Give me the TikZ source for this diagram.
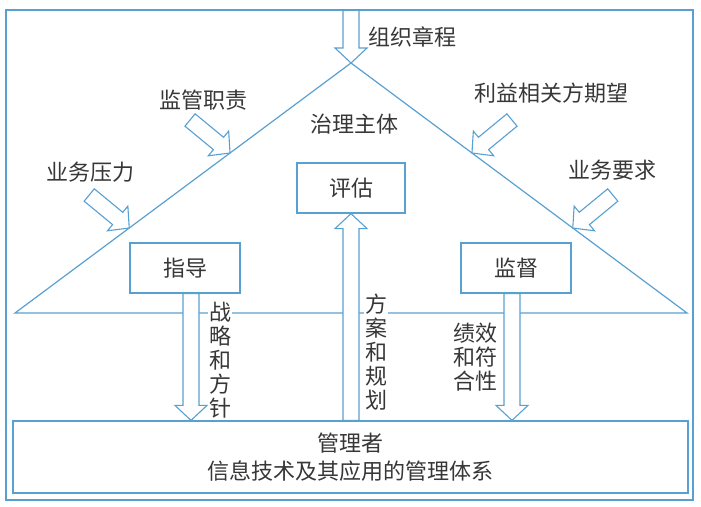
\documentclass[tikz,border=0pt]{standalone}
\usepackage{fontspec}
\usepackage{tikz}
\usetikzlibrary{calc,positioning}
\newfontfamily\cjk{Noto Sans CJK SC}
\definecolor{govblue}{RGB}{88,160,210}
\definecolor{inkgray}{RGB}{55,55,55}

% hollow block arrow from #1 to #2
\newcommand{\blockarrow}[3][fill=white]{%
  \coordinate (ba-h) at ($(#3)!15pt!(#2)$);
  \draw[hollow,#1] ($(#2)!8pt!-90:(#3)$) -- ($(ba-h)!8pt!90:(#2)$) -- ($(ba-h)!16pt!90:(#2)$)
    -- (#3) -- ($(ba-h)!16pt!-90:(#2)$) -- ($(ba-h)!8pt!-90:(#2)$) -- ($(#2)!8pt!90:(#3)$) -- cycle;
}

\tikzset{
  govline/.style={draw=govblue,line width=1.2pt},
  hollow/.style={draw=govblue,line width=1.1pt,line join=miter},
  cjklabel/.style={text=inkgray,font=\cjk\fontsize{22}{24}\selectfont,inner sep=1pt},
  govbox/.style={govline,fill=white,cjklabel,minimum width=110pt,minimum height=50pt},
}

\begin{document}
\begin{tikzpicture}[x=1pt,y=-1pt]
  \useasboundingbox (0,0) rectangle (701,506);
  \draw[govline] (6,10) rectangle (693,500);

  % triangle of the governing body
  \coordinate (apex) at (351,63);
  \coordinate (bl) at (15,313);
  \coordinate (br) at (687,313);
  \draw[govline,line join=miter] (bl) -- (apex) -- (br) -- cycle;

  \node[govbox,minimum width=108pt] (eval) at (351,188) {评估};
  \node[govbox] (guide) at (185,268) {指导};
  \node[govbox] (super) at (516,268) {监督};
  \node[govbox,minimum width=675pt,minimum height=72pt,align=center,
        font=\cjk\fontsize{22}{28}\selectfont] (mgr) at (350.5,457)
        {管理者\\信息技术及其应用的管理体系};

  \node[cjklabel] (board) at (354,124) {治理主体};
  \node[cjklabel] (charter) at (412,37) {组织章程};
  \node[cjklabel] (dutylbl) at (203,100) {监管职责};
  \node[cjklabel] (presslbl) at (90,172) {业务压力};
  \node[cjklabel] (stakelbl) at (551,93) {利益相关方期望};
  \node[cjklabel] (reqlbl) at (612,170) {业务要求};

  % inputs on the sides
  \coordinate (ftop) at (351,10);
  \blockarrow[fill=none]{ftop}{apex}
  \coordinate (duty) at ($(apex)!0.36!(bl)$);
  \coordinate (duty0) at ($(duty)+(-40,-33)$);
  \blockarrow{duty0}{duty}
  \coordinate (press) at ($(apex)!0.66!(bl)$);
  \coordinate (press0) at ($(press)+(-40,-33)$);
  \blockarrow{press0}{press}
  \coordinate (stake) at ($(apex)!0.36!(br)$);
  \coordinate (stake0) at ($(stake)+(40,-33)$);
  \blockarrow{stake0}{stake}
  \coordinate (req) at ($(apex)!0.66!(br)$);
  \coordinate (req0) at ($(req)+(40,-33)$);
  \blockarrow{req0}{req}

  % flows between board and managers
  \coordinate (g0) at ($(guide.south)+(6,0)$);
  \coordinate (g1) at (g0 |- mgr.north);
  \blockarrow{g0}{g1}
  \coordinate (p0) at (eval.south |- mgr.north);
  \blockarrow{p0}{eval.south}
  \coordinate (s0) at ($(super.south)+(-4,0)$);
  \coordinate (s1) at (s0 |- mgr.north);
  \blockarrow{s0}{s1}

  \node[cjklabel,fill=white,align=center] (strat) at (220,360) {战\\略\\和\\方\\针};
  \node[cjklabel,fill=white,align=center] (plan) at (376,352) {方\\案\\和\\规\\划};
  \node[cjklabel,align=center] (perf) at (475,357) {绩效\\和符\\合性};
\end{tikzpicture}
\end{document}
